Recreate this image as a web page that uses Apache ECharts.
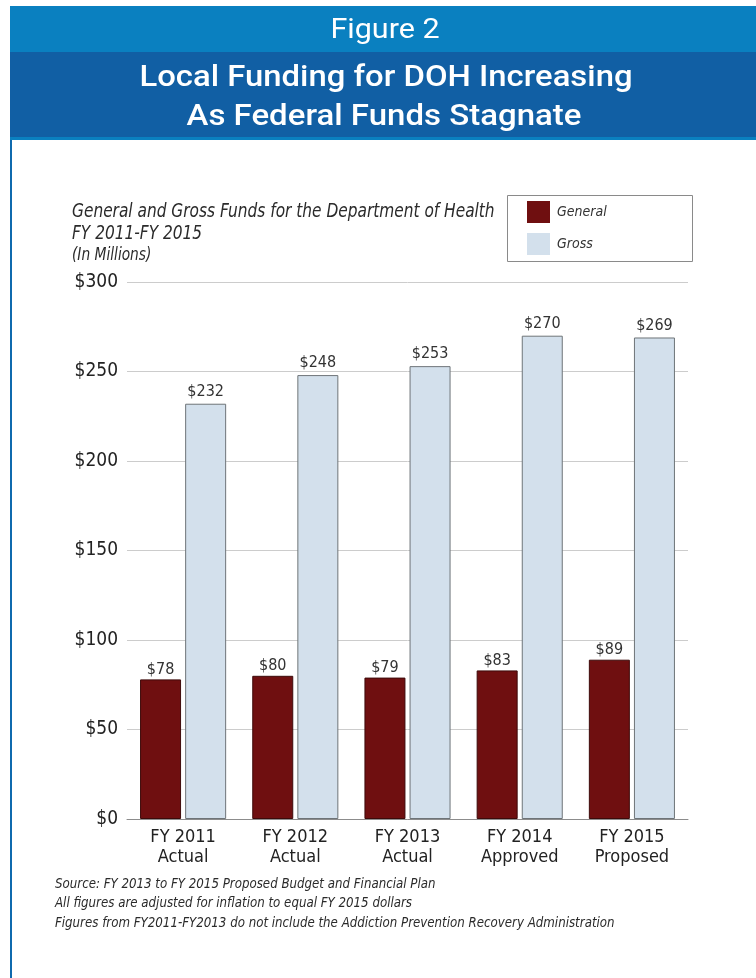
<!DOCTYPE html>
<html>
<head>
<meta charset="utf-8">
<title>Figure 2</title>
<script src="https://cdn.jsdelivr.net/npm/echarts@6/dist/echarts.min.js"></script>
<style>
  html, body { margin: 0; padding: 0; background: #ffffff; }
  #chart { width: 756px; height: 978px; }
</style>
</head>
<body>
<div id="chart"></div>
<script>
// Department of Health funding, FY 2011 - FY 2015 (in millions)
const categories = ['FY 2011', 'FY 2012', 'FY 2013', 'FY 2014', 'FY 2015'];
const stages = ['Actual', 'Actual', 'Actual', 'Approved', 'Proposed'];
const generalFunds = [78, 80, 79, 83, 89];
const grossFunds = [232, 248, 253, 270, 269];
const yTicks = [0, 50, 100, 150, 200, 250, 300];

const NARROW = '"DejaVu Sans Condensed", "Liberation Sans Narrow", sans-serif';
const HEAD = '"Roboto", "Liberation Sans", sans-serif';

const labels = categories.map((c, i) => c + '\n' + stages[i]);

// Helper for free-standing text, squeezed or stretched horizontally
function txt(x, y, text, font, opts) {
  opts = opts || {};
  return {
    type: 'text', x: x, y: y, scaleX: opts.sx || 1, silent: true,
    style: { text: text, font: font, fill: opts.fill || '#2b2b2b', align: opts.align || 'left', verticalAlign: 'middle' }
  };
}

const chart = echarts.init(document.getElementById('chart'), null, { renderer: 'canvas' });

chart.setOption({
  backgroundColor: '#ffffff',
  animation: false,
  graphic: [
    // header bands
    { type: 'rect', shape: { x: 10, y: 6, width: 746, height: 46 }, style: { fill: '#0a80c0' }, silent: true },
    { type: 'rect', shape: { x: 10, y: 52, width: 746, height: 86 }, style: { fill: '#115fa4' }, silent: true },
    { type: 'rect', shape: { x: 10, y: 137, width: 746, height: 3 }, style: { fill: '#0a80c0' }, silent: true },
    // left border
    { type: 'rect', shape: { x: 10, y: 140, width: 2, height: 838 }, style: { fill: '#0f6aae' }, silent: true },
    txt(385, 31, 'Figure 2', '27px ' + HEAD, { fill: '#ffffff', align: 'center', sx: 1.13 }),
    txt(386, 78, 'Local Funding for DOH Increasing', '500 30px ' + HEAD, { fill: '#ffffff', align: 'center', sx: 1.095 }),
    txt(384, 117, 'As Federal Funds Stagnate', '500 30px ' + HEAD, { fill: '#ffffff', align: 'center', sx: 1.1 }),
    // chart caption
    txt(72, 212, 'General and Gross Funds for the Department of Health', 'italic 19px ' + NARROW, { sx: 0.9 }),
    txt(72, 234, 'FY 2011-FY 2015', 'italic 19px ' + NARROW, { sx: 0.9 }),
    txt(72, 256, '(In Millions)', 'italic 17px ' + NARROW, { sx: 0.9 }),
    // legend frame
    { type: 'rect', shape: { x: 507.5, y: 195.5, width: 185, height: 66 }, style: { fill: 'none', stroke: '#8a8a8a', lineWidth: 1 }, silent: true },
    // footnotes
    txt(55, 884, 'Source: FY 2013 to FY 2015 Proposed Budget and Financial Plan', 'italic 14px ' + NARROW, { sx: 0.94 }),
    txt(55, 903, 'All figures are adjusted for inflation to equal FY 2015 dollars', 'italic 14px ' + NARROW, { sx: 0.94 }),
    txt(55, 923, 'Figures from FY2011-FY2013 do not include the Addiction Prevention Recovery Administration', 'italic 14px ' + NARROW, { sx: 0.94 })
  ],
  legend: {
    orient: 'vertical',
    left: 527,
    top: 201,
    padding: 0,
    itemWidth: 23,
    itemHeight: 22,
    itemGap: 10,
    icon: 'rect',
    itemStyle: { borderWidth: 0 },
    textStyle: { fontFamily: NARROW, fontStyle: 'italic', fontSize: 14, color: '#333333', padding: [0, 0, 0, 2] },
    data: ['General', 'Gross']
  },
  grid: { left: 127, right: 68, top: 282, bottom: 159 },
  xAxis: {
    type: 'category',
    data: labels,
    axisLine: { show: true, lineStyle: { color: '#8c8c8c', width: 1 } },
    axisTick: { show: false },
    axisLabel: { fontFamily: NARROW, fontSize: 18, color: '#222222', lineHeight: 20, margin: 8 }
  },
  yAxis: {
    type: 'value',
    min: 0,
    max: 300,
    interval: 50,
    axisLine: { show: false },
    axisTick: { show: false },
    splitLine: { lineStyle: { color: '#cccccc', width: 1 } },
    axisLabel: {
      fontFamily: NARROW, fontSize: 19, color: '#222222', margin: 9,
      formatter: v => (yTicks.indexOf(v) >= 0 ? '$' + v : '')
    }
  },
  series: [
    {
      name: 'General',
      type: 'bar',
      data: generalFunds,
      barWidth: 41,
      barGap: '10%',
      itemStyle: { color: '#6f0f10', borderColor: '#3d0a0a', borderWidth: 1 },
      label: { show: true, position: 'top', distance: 2, formatter: p => '$' + p.value, fontFamily: NARROW, fontSize: 16, color: '#333333' }
    },
    {
      name: 'Gross',
      type: 'bar',
      data: grossFunds,
      barWidth: 41,
      itemStyle: { color: '#d3e0ec', borderColor: '#6e7478', borderWidth: 1 },
      label: { show: true, position: 'top', distance: 4, formatter: p => '$' + p.value, fontFamily: NARROW, fontSize: 16, color: '#333333' }
    }
  ]
});
</script>
</body>
</html>
